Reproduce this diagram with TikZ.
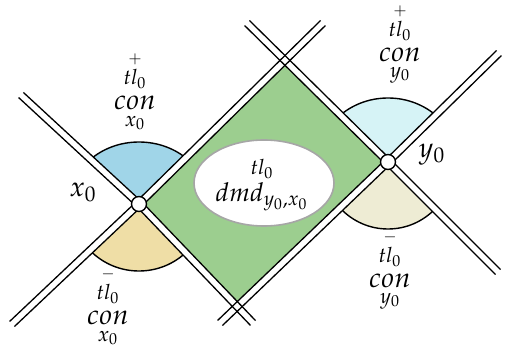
\documentclass[tikz,border=0pt]{standalone}
\usepackage{amsmath}
\usepackage{mathpazo}
\usepackage{tikz}
\usetikzlibrary{calc,shapes.geometric}
\definecolor{dmdfill}{RGB}{156, 206, 143}
\definecolor{xupfill}{RGB}{160, 213, 232}
\definecolor{yupfill}{RGB}{214, 243, 246}
\definecolor{xdnfill}{RGB}{239, 222, 166}
\definecolor{ydnfill}{RGB}{238, 236, 212}

\begin{document}
\begin{tikzpicture}[x=0.5pt, y=0.5pt,
		gap/.style={white, line width=3.5pt},
		rail/.style={black, line width=0.65pt},
		rim/.style={black, line width=0.7pt},
		joint/.style={circle, draw=black, line width=0.7pt, fill=white, inner sep=0pt, minimum size=7.5pt},
		bigtext/.style={font=\fontsize{14}{16}\selectfont, inner sep=0pt},
		smalltext/.style={font=\fontsize{10.5}{12}\selectfont, inner sep=0pt},
		signtext/.style={font=\fontsize{8}{10}\selectfont, inner sep=0pt},
		bubble/.style={ellipse, draw=gray!70, line width=0.8pt, fill=white, inner sep=0pt,
			minimum width=70pt, minimum height=43pt}]
	\def\ro{1.75pt}
	\useasboundingbox (0,0) rectangle (508,348);

	% crossing points and arm ends
	\coordinate (x0) at (139,144);
	\coordinate (xnw) at (21,253);
	\coordinate (xne) at (323,325);
	\coordinate (xsw) at (12,24);
	\coordinate (xse) at (253,25);
	\coordinate (y0) at (388,186);
	\coordinate (ynw) at (247,325);
	\coordinate (yne) at (499,295);
	\coordinate (ysw) at (220,25);
	\coordinate (yse) at (498,76);
	\coordinate (top) at (intersection of x0--xne and y0--ynw);
	\coordinate (bot) at (intersection of x0--xse and y0--ysw);

	% diamond
	\fill[dmdfill] (x0) -- (top) -- (y0) -- (bot) -- cycle;

	% cones
	\begin{scope}
		\clip (x0) -- (xne) -- (xnw) -- cycle;
		\fill[xupfill] (x0) ellipse[x radius=70, y radius=62];
		\draw[rim] (x0) ellipse[x radius=70, y radius=62];
	\end{scope}
	\begin{scope}
		\clip (x0) -- (xsw) -- (xse) -- cycle;
		\fill[xdnfill] (x0) ellipse[x radius=68, y radius=67];
		\draw[rim] (x0) ellipse[x radius=68, y radius=67];
	\end{scope}
	\begin{scope}
		\clip (y0) -- (yne) -- (ynw) -- cycle;
		\fill[yupfill] (y0) ellipse[x radius=70, y radius=64];
		\draw[rim] (y0) ellipse[x radius=70, y radius=64];
	\end{scope}
	\begin{scope}
		\clip (y0) -- (ysw) -- (yse) -- cycle;
		\fill[ydnfill] (y0) ellipse[x radius=66, y radius=67];
		\draw[rim] (y0) ellipse[x radius=66, y radius=67];
	\end{scope}

	% arms: white gap first, then the two rails
	\foreach \c/\e in {x0/xnw, x0/xne, x0/xsw, x0/xse, y0/ynw, y0/yne, y0/ysw, y0/yse}
		\draw[gap] (\c) -- (\e);
	\foreach \c/\e in {x0/xnw, x0/xne, x0/xsw, x0/xse, y0/ynw, y0/yne, y0/ysw, y0/yse} {
		\draw[rail] ($(\c)!\ro!90:(\e)$) -- ($(\e)!\ro!-90:(\c)$);
		\draw[rail] ($(\c)!\ro!-90:(\e)$) -- ($(\e)!\ro!90:(\c)$);
	}

	\node[joint] (jx) at (x0) {};
	\node[joint] (jy) at (y0) {};

	% diamond label
	\node[bubble] (dmd) at (264,165) {};
	\node[smalltext] (dmdtl) at (262,179) {$tl_0$};
	\node[font=\fontsize{13}{14}\selectfont, inner sep=0pt] (dmdname) at (262,151) {$dmd_{y_0,x_0}$};

	\node[bigtext] (xlab) at (83,156) {$x_0$};
	\node[bigtext] (ylab) at (432,193) {$y_0$};

	% cone labels
	\foreach \n/\px/\py/\s/\p in {xup/135/245/+/x_0, yup/400/293/+/y_0, xdn/108/30/-/x_0, ydn/390/67/-/y_0} {
		\node[bigtext] (\n) at (\px,\py) {$con$};
		\node[smalltext] (\n-tl) at ($(\n)+(0,24)$) {$tl_0$};
		\node[signtext] (\n-sg) at ($(\n)+(0,44)$) {$\s$};
		\node[smalltext] (\n-pt) at ($(\n)+(0,-20)$) {$\p$};
	}
\end{tikzpicture}
\end{document}
